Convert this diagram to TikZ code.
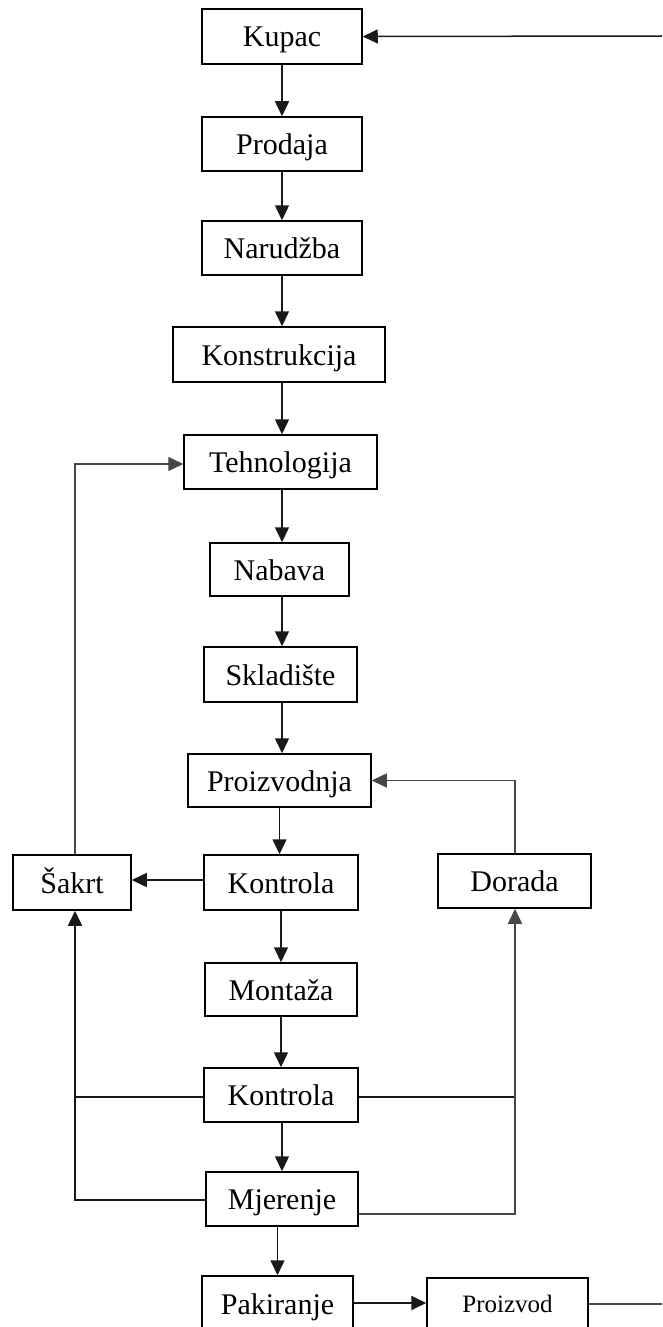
\documentclass[tikz,border=0pt]{standalone}
\usepackage{fontspec}
\setmainfont{Liberation Serif}
\usetikzlibrary{arrows.meta}
\begin{document}
\begin{tikzpicture}[x=1pt,y=-1pt,
  box/.style={draw=black,line width=1.5pt,rectangle,inner sep=0pt,align=center,
    font=\fontsize{30}{32}\selectfont,text height=21pt,text depth=0pt},
  conn/.style={line width=1.5pt,draw=black!90},
  soft/.style={line width=1.4pt,draw=black!72},
  arr/.style={-{Triangle[length=15pt,width=14pt]}}]
\useasboundingbox (0,0) rectangle (662,1327);
\node[box,minimum width=160pt,minimum height=55pt] (kupac) at (282,36.5) {Kupac};
\node[box,minimum width=160pt,minimum height=54pt] (prodaja) at (282,144) {Prodaja};
\node[box,minimum width=160pt,minimum height=54pt] (narudzba) at (282,248) {Narudžba};
\node[box,minimum width=212pt,minimum height=55pt] (konstr) at (279,354.5) {Konstrukcija};
\node[box,minimum width=193pt,minimum height=54pt] (tehn) at (280.5,462) {Tehnologija};
\node[box,minimum width=139pt,minimum height=53pt] (nabava) at (279.5,569.5) {Nabava};
\node[box,minimum width=153pt,minimum height=55pt] (sklad) at (280.5,674.5) {Skladište};
\node[box,minimum width=183pt,minimum height=53pt] (proizv) at (279.5,780.5) {Proizvodnja};
\node[box,minimum width=118pt,minimum height=55pt] (sakrt) at (72,882.5) {Šakrt};
\node[box,minimum width=154pt,minimum height=55pt] (kontrola1) at (281,882.5) {Kontrola};
\node[box,minimum width=153pt,minimum height=54pt] (dorada) at (514.5,881) {Dorada};
\node[box,minimum width=152pt,minimum height=53pt] (montaza) at (281,989.5) {Montaža};
\node[box,minimum width=154pt,minimum height=54pt] (kontrola2) at (281,1095) {Kontrola};
\node[box,minimum width=152pt,minimum height=54pt] (mjerenje) at (282,1199) {Mjerenje};
\node[box,minimum width=151pt,minimum height=55pt] (pakir) at (277.5,1303.5) {Pakiranje};
\node[box,minimum width=161pt,minimum height=52pt,font=\fontsize{25}{27}\selectfont,text height=17pt] (proizvod) at (507.5,1304) {Proizvod};
% free ends and bend points
\coordinate (inR) at (662,36);
\coordinate (outR) at (662,1304);
\coordinate (Lx) at (75,0);
\coordinate (Rx) at (515,0);
\coordinate (k1w) at ([yshift=2.5pt]kontrola1.west);
\coordinate (k2w) at ([yshift=-2pt]kontrola2.west);
\coordinate (k2e) at ([yshift=-2pt]kontrola2.east);
\coordinate (mjw) at ([yshift=-1pt]mjerenje.west);
\coordinate (mje) at ([yshift=-15pt]mjerenje.east);
\coordinate (tw) at ([yshift=-2pt]tehn.west);
\coordinate (pe) at ([yshift=0.5pt]pakir.east);
% main chain
\draw[conn,arr] (kupac.south) -- (kupac.south |- prodaja.north);
\draw[conn,arr] (prodaja.south) -- (prodaja.south |- narudzba.north);
\draw[conn,arr] (narudzba.south) -- (narudzba.south |- konstr.north);
\draw[conn,arr] (konstr.south -| narudzba.south) -- (narudzba.south |- tehn.north);
\draw[conn,arr] (tehn.south -| narudzba.south) -- (narudzba.south |- nabava.north);
\draw[conn,arr] (nabava.south -| narudzba.south) -- (narudzba.south |- sklad.north);
\draw[conn,arr] (sklad.south -| narudzba.south) -- (narudzba.south |- proizv.north);
\draw[conn,arr] (proizv.south) -- (proizv.south |- kontrola1.north);
\draw[conn,arr] (kontrola1.south) -- (kontrola1.south |- montaza.north);
\draw[conn,arr] (montaza.south) -- (montaza.south |- kontrola2.north);
\draw[conn,arr] (kontrola2.south -| mjerenje.north) -- (mjerenje.north);
\draw[conn,arr] (mjerenje.south -| pakir.north) -- (pakir.north);
\draw[conn,arr,line width=2pt] (pe) -- (pe -| proizvod.west);
\draw[soft,line width=1.8pt] (proizvod.east) -- (outR);
\draw[conn,arr] (inR) -- (kupac.east);
% scrap loop
\draw[conn,arr] (k1w) -- (k1w -| sakrt.east);
\draw[soft,arr] (Lx |- sakrt.north) -- (Lx |- tw) -- (tw);
\draw[conn] (k2w) -- (Lx |- k2w);
\draw[conn,arr] (mjw) -- (Lx |- mjw) -- (Lx |- sakrt.south);
% rework loop
\draw[conn] (k2e) -- (Rx |- k2e);
\draw[soft,arr] (mje) -- (Rx |- mje) -- (Rx |- dorada.south);
\draw[soft,arr] (Rx |- dorada.north) -- (Rx |- proizv.east) -- (proizv.east);
\end{tikzpicture}
\end{document}
